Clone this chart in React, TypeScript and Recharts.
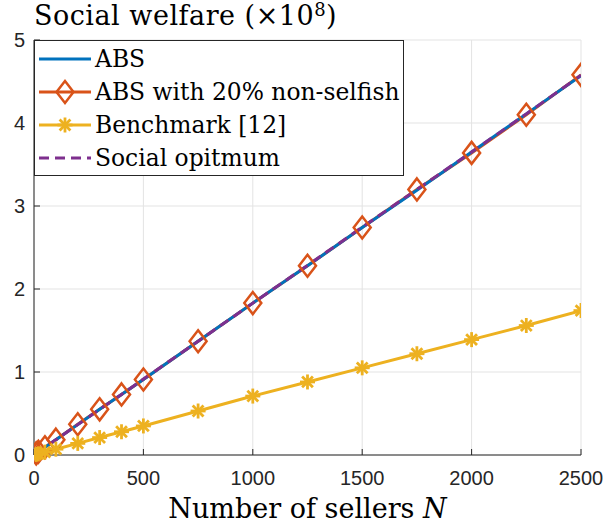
import React from 'react'
import {
  LineChart,
  Line,
  XAxis,
  YAxis,
  CartesianGrid,
} from 'recharts'

// number of sellers N
const N_VALUES = [10, 20, 50, 100, 200, 300, 400, 500, 750, 1000, 1250, 1500, 1750, 2000, 2250, 2500]

// social welfare, in units of 10^8
const ABS = [0.018, 0.037, 0.092, 0.183, 0.366, 0.55, 0.73, 0.91, 1.37, 1.83, 2.28, 2.74, 3.19, 3.65, 4.11, 4.57]
const ABS_NON_SELFISH = [0.02, 0.04, 0.094, 0.185, 0.37, 0.55, 0.73, 0.91, 1.37, 1.83, 2.28, 2.74, 3.2, 3.64, 4.1, 4.58]
const BENCHMARK = [0.007, 0.014, 0.035, 0.07, 0.14, 0.21, 0.28, 0.35, 0.53, 0.71, 0.88, 1.05, 1.22, 1.39, 1.56, 1.74]
const SOCIAL_OPT = [0.018, 0.037, 0.092, 0.183, 0.366, 0.55, 0.73, 0.915, 1.37, 1.83, 2.285, 2.745, 3.2, 3.65, 4.11, 4.575]

const X_TICKS = [0, 500, 1000, 1500, 2000, 2500]
const Y_TICKS = [0, 1, 2, 3, 4, 5]

const BLUE = '#0072BD'
const ORANGE = '#D95319'
const YELLOW = '#EDB120'
const PURPLE = '#7E2F8E'
const AXIS = '#262626'
const SERIF = "'DejaVu Serif', 'Liberation Serif', serif"
const SANS = "'Liberation Sans', Arial, sans-serif"

const data = N_VALUES.map((n, i) => ({
  n,
  abs: ABS[i],
  absNs: ABS_NON_SELFISH[i],
  bench: BENCHMARK[i],
  opt: SOCIAL_OPT[i],
}))

const Diamond = ({ cx, cy }: any) => {
  if (cx == null || cy == null) return null
  return (
    <path
      d={`M${cx},${cy - 11} L${cx + 8.5},${cy} L${cx},${cy + 11} L${cx - 8.5},${cy} Z`}
      fill="none"
      stroke={ORANGE}
      strokeWidth={2.5}
    />
  )
}

const Star = ({ cx, cy }: any) => {
  if (cx == null || cy == null) return null
  const r = 7.5
  const d = r * 0.72
  return (
    <g stroke={YELLOW} strokeWidth={2.8}>
      <line x1={cx - r} y1={cy} x2={cx + r} y2={cy} />
      <line x1={cx} y1={cy - r} x2={cx} y2={cy + r} />
      <line x1={cx - d} y1={cy - d} x2={cx + d} y2={cy + d} />
      <line x1={cx - d} y1={cy + d} x2={cx + d} y2={cy - d} />
    </g>
  )
}

const legendRows = [
  { label: 'ABS', color: BLUE, marker: null, dash: undefined },
  { label: 'ABS with 20% non-selfish', color: ORANGE, marker: 'diamond', dash: undefined },
  { label: 'Benchmark [12]', color: YELLOW, marker: 'star', dash: undefined },
  { label: 'Social opitmum', color: PURPLE, marker: null, dash: '10 6' },
]

function LegendBox() {
  return (
    <div
      style={{
        position: 'absolute',
        left: 34,
        top: 40,
        width: 370,
        height: 136,
        border: `1px solid ${AXIS}`,
        background: '#fff',
        boxSizing: 'border-box',
        fontFamily: SERIF,
      }}
    >
      {legendRows.map((row, i) => (
        <div
          key={row.label}
          style={{ position: 'absolute', left: 0, top: 2 + i * 33, height: 32, display: 'flex', alignItems: 'center' }}
        >
          <svg width={60} height={32} style={{ display: 'block', flex: 'none' }}>
            <line x1={4} y1={16} x2={56} y2={16} stroke={row.color} strokeWidth={3} strokeDasharray={row.dash} />
            {row.marker === 'diamond' && <Diamond cx={30} cy={16} />}
            {row.marker === 'star' && <Star cx={30} cy={16} />}
          </svg>
          <span style={{ fontFamily: SERIF, fontSize: 23.4, lineHeight: '32px', color: '#000', whiteSpace: 'nowrap' }}>
            {row.label}
          </span>
        </div>
      ))}
    </div>
  )
}

export default function App() {
  return (
    <div style={{ position: 'absolute', left: 0, top: 0, width: 604, height: 527, background: '#fff' }}>
      <LineChart
        width={604}
        height={527}
        data={data}
        margin={{ top: 40, right: 23, bottom: 0, left: 0 }}
      >
        <CartesianGrid stroke="#e3e3e3" strokeWidth={1} />
        <XAxis
          dataKey="n"
          type="number"
          domain={[0, 2500]}
          ticks={X_TICKS}
          height={72}
          stroke={AXIS}
          tickSize={-6}
          tickMargin={22}
          tick={{ fill: '#262626', fontSize: 20, fontFamily: SANS }}
          allowDataOverflow
        />
        <XAxis
          xAxisId="top"
          orientation="top"
          dataKey="n"
          type="number"
          domain={[0, 2500]}
          ticks={X_TICKS}
          height={0}
          stroke={AXIS}
          tickSize={-6}
          tick={false}
        />
        <YAxis
          type="number"
          domain={[0, 5]}
          ticks={Y_TICKS}
          width={34}
          stroke={AXIS}
          tickSize={-6}
          tickMargin={15}
          tick={{ fill: '#262626', fontSize: 20, fontFamily: SANS }}
        />
        <YAxis
          yAxisId="right"
          orientation="right"
          type="number"
          domain={[0, 5]}
          ticks={Y_TICKS}
          width={0}
          stroke={AXIS}
          tickSize={-6}
          tick={false}
        />
        <Line
          dataKey="absNs"
          stroke={ORANGE}
          strokeWidth={3}
          dot={<Diamond />}
          isAnimationActive={false}
        />
        <Line
          dataKey="abs"
          stroke={BLUE}
          strokeWidth={3}
          dot={false}
          isAnimationActive={false}
        />
        <Line
          dataKey="bench"
          stroke={YELLOW}
          strokeWidth={3}
          dot={<Star />}
          isAnimationActive={false}
        />
        <Line
          dataKey="opt"
          stroke={PURPLE}
          strokeWidth={3}
          strokeDasharray="10 6"
          dot={false}
          isAnimationActive={false}
        />
      </LineChart>
      <LegendBox />
      <div
        style={{
          position: 'absolute',
          left: 34,
          top: 0,
          fontFamily: SERIF,
          fontSize: 27,
          letterSpacing: 0.5,
          lineHeight: '32px',
          color: '#000',
          whiteSpace: 'nowrap',
        }}
      >
        Social welfare (×10<sup style={{ fontSize: 18, verticalAlign: 'top', lineHeight: '20px' }}>8</sup>)
      </div>
      <div
        style={{
          position: 'absolute',
          left: 34,
          width: 547,
          top: 493,
          textAlign: 'center',
          fontFamily: SERIF,
          fontSize: 27,
          lineHeight: '32px',
          color: '#000',
          whiteSpace: 'nowrap',
        }}
      >
        Number of sellers <i>N</i>
      </div>
    </div>
  )
}
